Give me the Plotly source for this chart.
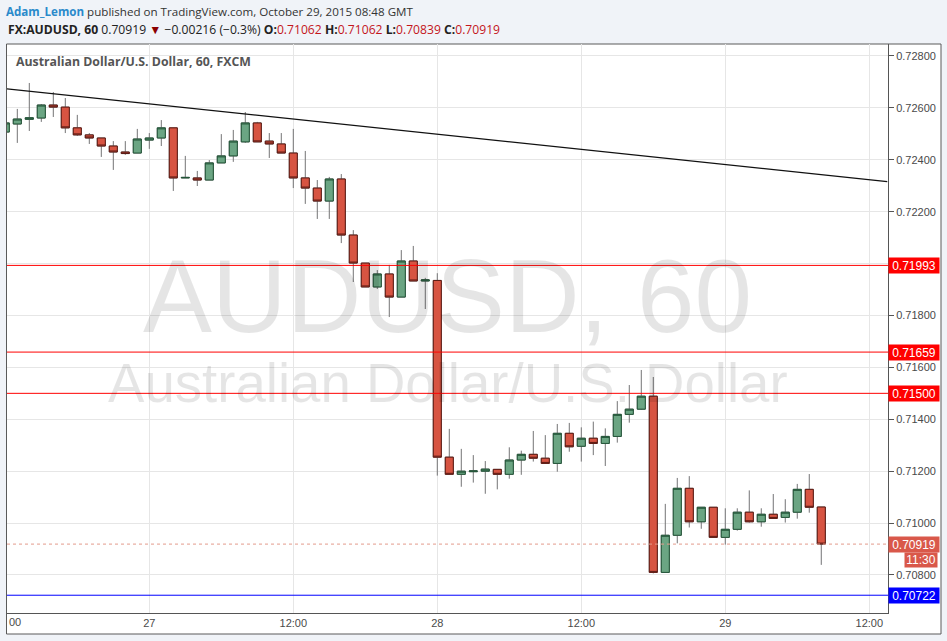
import pandas as pd
import plotly.graph_objects as go

# ---------------- data ----------------
start_time = "2015-10-26 12:00"
opens = [
    0.72507, 0.72538, 0.72556, 0.72561, 0.72611, 0.72603, 0.72523, 0.72496, 0.72484, 0.72453,
    0.72430, 0.72426, 0.72476, 0.72484, 0.72523, 0.72330, 0.72330, 0.72322, 0.72388, 0.72415,
    0.72469, 0.72542, 0.72472, 0.72461, 0.72426, 0.72330, 0.72291, 0.72241, 0.72326, 0.72110,
    0.72002, 0.71910, 0.71960, 0.71871, 0.72010, 0.71933, 0.71935, 0.71254, 0.71188, 0.71198,
    0.71200, 0.71207, 0.71188, 0.71243, 0.71265, 0.71250, 0.71230, 0.71346, 0.71296, 0.71327,
    0.71307, 0.71334, 0.71419, 0.71439, 0.71489, 0.70810, 0.70953, 0.71134, 0.71005, 0.71061,
    0.70945, 0.70976, 0.71042, 0.71005, 0.71034, 0.71022, 0.71042, 0.71130, 0.71062]
highs = [
    0.72550, 0.72596, 0.72696, 0.72615, 0.72661, 0.72638, 0.72573, 0.72503, 0.72484, 0.72472,
    0.72472, 0.72519, 0.72503, 0.72553, 0.72523, 0.72415, 0.72357, 0.72399, 0.72499, 0.72515,
    0.72584, 0.72546, 0.72503, 0.72503, 0.72519, 0.72434, 0.72322, 0.72334, 0.72345, 0.72129,
    0.72002, 0.71975, 0.71995, 0.72052, 0.72068, 0.71945, 0.71963, 0.71363, 0.71286, 0.71262,
    0.71239, 0.71208, 0.71292, 0.71279, 0.71355, 0.71339, 0.71382, 0.71386, 0.71369, 0.71391,
    0.71365, 0.71470, 0.71532, 0.71590, 0.71563, 0.71074, 0.71174, 0.71181, 0.71061, 0.71061,
    0.71057, 0.71057, 0.71126, 0.71057, 0.71112, 0.71092, 0.71151, 0.71189, 0.71062]
lows = [
    0.72499, 0.72465, 0.72511, 0.72546, 0.72565, 0.72503, 0.72492, 0.72461, 0.72411, 0.72361,
    0.72419, 0.72426, 0.72442, 0.72453, 0.72280, 0.72330, 0.72299, 0.72322, 0.72388, 0.72392,
    0.72465, 0.72469, 0.72407, 0.72426, 0.72291, 0.72230, 0.72172, 0.72172, 0.72079, 0.71929,
    0.71910, 0.71902, 0.71794, 0.71871, 0.71933, 0.71825, 0.71183, 0.71188, 0.71140, 0.71156,
    0.71113, 0.71130, 0.71171, 0.71186, 0.71237, 0.71230, 0.71198, 0.71275, 0.71237, 0.71262,
    0.71220, 0.71310, 0.71387, 0.71436, 0.70806, 0.70810, 0.70922, 0.70983, 0.70978, 0.70945,
    0.70917, 0.70971, 0.71002, 0.70986, 0.71016, 0.71002, 0.71017, 0.71040, 0.70839]
closes = [
    0.72542, 0.72557, 0.72562, 0.72611, 0.72603, 0.72523, 0.72496, 0.72484, 0.72453, 0.72430,
    0.72424, 0.72480, 0.72484, 0.72523, 0.72330, 0.72332, 0.72322, 0.72388, 0.72415, 0.72472,
    0.72542, 0.72469, 0.72461, 0.72426, 0.72330, 0.72291, 0.72241, 0.72326, 0.72110, 0.72002,
    0.71910, 0.71960, 0.71871, 0.72010, 0.71933, 0.71937, 0.71254, 0.71188, 0.71200, 0.71201,
    0.71208, 0.71188, 0.71243, 0.71265, 0.71250, 0.71230, 0.71346, 0.71294, 0.71327, 0.71307,
    0.71334, 0.71419, 0.71439, 0.71489, 0.70810, 0.70953, 0.71134, 0.71005, 0.71061, 0.70945,
    0.70976, 0.71042, 0.71005, 0.71034, 0.71018, 0.71042, 0.71130, 0.71061, 0.70919]

red_levels = [0.71993, 0.71659, 0.71500]
blue_levels = [0.70722]
last_price = 0.70919
countdown = "11:30"

trend_times = ["2015-10-26 12:00", "2015-10-29 13:30"]
trend_prices = [0.72674, 0.72316]

x_tick_vals = ["2015-10-27 00:00", "2015-10-27 12:00", "2015-10-28 00:00",
               "2015-10-28 12:00", "2015-10-29 00:00", "2015-10-29 12:00"]
x_tick_text = ["27", "12:00", "28", "12:00", "29", "12:00"]
y_tick_vals = [0.708, 0.710, 0.712, 0.714, 0.716, 0.718, 0.720, 0.722, 0.724, 0.726, 0.728]
# 0.72000 is hidden behind the 0.71993 price box in the original
y_tick_text = ["0.70800", "0.71000", "0.71200", "0.71400", "0.71600", "0.71800", "",
               "0.72200", "0.72400", "0.72600", "0.72800"]

x_range = ["2015-10-26 12:08:30", "2015-10-29 13:33:36"]
y_range = [0.706535, 0.728462]

times = pd.date_range(start_time, periods=len(opens), freq="h")
body_hi = [max(o, c) for o, c in zip(opens, closes)]
body_lo = [min(o, c) for o, c in zip(opens, closes)]

# ---------------- style ----------------
PAGE_BG = "#f0f3f8"
GREEN_FILL, GREEN_LINE = "#6ba583", "#225437"
RED_FILL, RED_LINE = "#d75442", "#5b1a13"
WICK = "#737375"
AXIS_TXT = "#4a4a4a"
FONT = "Liberation Sans, Arial, sans-serif"

L, T, W, H = 7, 44, 947, 641
PW, PH = 881, 569


def px(xp):
    return (xp - L) / PW


def py(yp):
    return (T + PH - yp) / PH


fig = go.Figure()

# wicks (grey)
fig.add_trace(go.Candlestick(
    x=times, open=opens, high=highs, low=lows, close=closes,
    increasing=dict(line=dict(color=WICK, width=1), fillcolor=GREEN_FILL),
    decreasing=dict(line=dict(color=WICK, width=1), fillcolor=RED_FILL),
    hoverinfo="skip", showlegend=False))
# bodies
fig.add_trace(go.Candlestick(
    x=times, open=opens, high=body_hi, low=body_lo, close=closes,
    increasing=dict(line=dict(color=GREEN_LINE, width=1), fillcolor=GREEN_FILL),
    decreasing=dict(line=dict(color=RED_LINE, width=1), fillcolor=RED_FILL),
    showlegend=False))

# trend line
fig.add_trace(go.Scatter(x=trend_times, y=trend_prices, mode="lines",
                         line=dict(color="#111111", width=1.2),
                         hoverinfo="skip", showlegend=False))

shapes = []
# panel
shapes.append(dict(type="rect", xref="paper", yref="paper",
                   x0=px(6.5), x1=px(941), y0=py(634), y1=py(44),
                   fillcolor="white", line=dict(color="#5a5a5a", width=1), layer="below"))
for lv in red_levels:
    shapes.append(dict(type="line", xref="paper", yref="y", x0=0, x1=1, y0=lv, y1=lv,
                       line=dict(color="#ff0000", width=1), layer="above"))
for lv in blue_levels:
    shapes.append(dict(type="line", xref="paper", yref="y", x0=0, x1=1, y0=lv, y1=lv,
                       line=dict(color="#0000ff", width=1), layer="above"))
shapes.append(dict(type="line", xref="paper", yref="y", x0=0, x1=1, y0=last_price, y1=last_price,
                   line=dict(color="#e39a8c", width=1, dash="dot"), layer="above"))

annotations = []
# header
annotations.append(dict(
    xref="paper", yref="paper", x=px(4), y=py(12), xanchor="left", yanchor="middle",
    showarrow=False, font=dict(family="Open Sans", size=11.6, color="#333333"),
    text="<span style='color:#2a8acb'><b>Adam_Lemon</b></span> published on TradingView.com, October 29, 2015 08:48 GMT"))
annotations.append(dict(
    xref="paper", yref="paper", x=px(6), y=py(30), xanchor="left", yanchor="middle",
    showarrow=False, font=dict(family="Open Sans", size=12.15, color="#222222"),
    text=("<b>FX:AUDUSD, 60</b> 0.70919 <span style='color:#8b0000'>▼</span> −0.00216 (−0.3%) "
          "<b>O:</b><span style='color:#c4161c'>0.71062</span> "
          "<b>H:</b><span style='color:#c4161c'>0.71062</span> "
          "<b>L:</b><span style='color:#c4161c'>0.70839</span> "
          "<b>C:</b><span style='color:#c4161c'>0.70919</span>")))
# chart title
annotations.append(dict(
    xref="paper", yref="paper", x=px(14), y=py(61), xanchor="left", yanchor="middle",
    showarrow=False, font=dict(family="Open Sans", size=12.3, color="#555555"),
    text="<b>Australian Dollar/U.S. Dollar, 60, FXCM</b>"))
# watermark
annotations.append(dict(
    xref="paper", yref="paper", x=0.5, y=py(296), xanchor="center", yanchor="middle",
    showarrow=False, font=dict(family=FONT, size=103.4, color="rgba(0,0,0,0.10)"),
    text="AUDUSD, 60"))
annotations.append(dict(
    xref="paper", yref="paper", x=0.5, y=py(383), xanchor="center", yanchor="middle",
    showarrow=False, font=dict(family=FONT, size=54.6, color="rgba(0,0,0,0.10)"),
    text="Australian Dollar/U.S. Dollar"))
# price boxes on the right axis
for lv in red_levels:
    annotations.append(dict(xref="paper", yref="y", x=1, y=lv, xanchor="left", yanchor="middle",
                            showarrow=False, text=f"{lv:.5f}", bgcolor="#ff0000",
                            font=dict(family=FONT, size=12, color="white"),
                            width=48, height=13, borderpad=1, align="center"))
for lv in blue_levels:
    annotations.append(dict(xref="paper", yref="y", x=1, y=lv, xanchor="left", yanchor="middle",
                            showarrow=False, text=f"{lv:.5f}", bgcolor="#0000ff",
                            font=dict(family=FONT, size=12, color="white"),
                            width=48, height=13, borderpad=1, align="center"))
annotations.append(dict(xref="paper", yref="y", x=1, y=last_price, xanchor="left", yanchor="middle",
                        showarrow=False, text=f"{last_price:.5f}", bgcolor="#d9584a",
                        font=dict(family=FONT, size=12, color="white"),
                        width=48, height=13, borderpad=1, align="center"))
annotations.append(dict(xref="paper", yref="paper", x=px(938), y=py(560), xanchor="right", yanchor="middle",
                        showarrow=False, text=countdown, bgcolor="#d9584a",
                        font=dict(family=FONT, size=12, color="white"),
                        width=30, height=12, borderpad=1, align="center"))
# partially hidden first time label
annotations.append(dict(xref="paper", yref="paper", x=px(7), y=py(622), xanchor="left", yanchor="middle",
                        showarrow=False, text="00", font=dict(family=FONT, size=11, color=AXIS_TXT)))

fig.update_layout(
    width=W, height=H,
    margin=dict(l=L, r=W - L - PW, t=T, b=H - T - PH),
    paper_bgcolor=PAGE_BG, plot_bgcolor="white",
    boxgap=0.33, boxgroupgap=0,
    shapes=shapes, annotations=annotations,
    xaxis=dict(type="date", range=x_range, rangeslider=dict(visible=False),
               tickvals=x_tick_vals, ticktext=x_tick_text, ticks="",
               showgrid=True, gridcolor="#e6e6e6", gridwidth=1,
               showline=True, linecolor="#555555", linewidth=1,
               tickfont=dict(family=FONT, size=11, color=AXIS_TXT), zeroline=False),
    yaxis=dict(side="right", range=y_range, tickvals=y_tick_vals, ticktext=y_tick_text,
               ticks="outside", ticklen=5, tickcolor="#555555",
               showgrid=True, gridcolor="#e6e6e6", gridwidth=1,
               showline=True, linecolor="#555555", linewidth=1,
               tickfont=dict(family=FONT, size=11, color=AXIS_TXT), zeroline=False),
    hovermode=False,
)

fig.write_html("out.html", config={"displayModeBar": False},
               post_script="document.body.style.margin='0';document.body.style.padding='0';"
                           "document.body.style.background='" + PAGE_BG + "';")
